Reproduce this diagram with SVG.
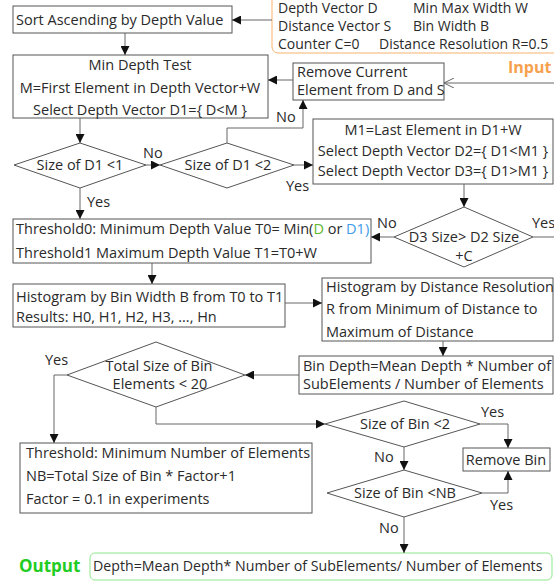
<svg xmlns="http://www.w3.org/2000/svg" width="554" height="583" viewBox="0 0 554 583">
<style>
text{font-family:"Open Sans","Noto Sans","Liberation Sans",sans-serif;font-size:14.5px;fill:#2a2a2a}
.c{text-anchor:middle}
.in{font-size:14px}
.box{fill:#fff;stroke:#555;stroke-width:1}
.ln{fill:none;stroke:#666;stroke-width:1}
.ar{marker-end:url(#ah)}
</style>
<defs>
<marker id="ah" viewBox="0 0 10 10" refX="10" refY="5" markerWidth="9" markerHeight="9" markerUnits="userSpaceOnUse" orient="auto"><path d="M0,0 L10,5 L0,10 z" fill="#111"/></marker>
<marker id="oh" viewBox="0 0 10 10" refX="10" refY="5" markerWidth="10" markerHeight="10" markerUnits="userSpaceOnUse" orient="auto"><path d="M0,0 L10,5 L0,10" fill="none" stroke="#666" stroke-width="1"/></marker>
</defs>
<rect width="554" height="583" fill="#fff"/>

<g id="input">
<rect x="272" y="-10" width="300" height="63" rx="6" fill="#fff" stroke="#f7b26e"/>
<text class="in" x="278" y="13">Depth Vector D</text>
<text class="in" x="413" y="13">Min Max Width W</text>
<text class="in" x="278" y="31">Distance Vector S</text>
<text class="in" x="413" y="31">Bin Width B</text>
<text class="in" x="278" y="49">Counter C=0</text>
<text class="in" x="379" y="49">Distance Resolution R=0.5</text>
<text x="508" y="73" style="font-weight:bold;font-size:16px;fill:#f7a14f">Input</text>
</g>

<g id="sort"><rect class="box" x="13" y="6" width="219" height="27"/><text x="16" y="25">Sort Ascending by Depth Value</text></g>

<g id="mintest"><rect class="box" x="13" y="55" width="255" height="63"/>
<text class="c" x="140" y="70">Min Depth Test</text>
<text class="c" x="140" y="93">M=First Element in Depth Vector+W</text>
<text class="c" x="140" y="115">Select Depth Vector D1={ D&lt;M }</text></g>

<g id="remove"><rect class="box" x="293" y="63" width="151" height="37"/>
<text x="297" y="77">Remove Current</text>
<text x="297" y="95">Element from D and S</text></g>

<g id="d1lt1"><polygon class="box" points="14,165 80,143 146,165 80,188"/><text class="c" x="80" y="170">Size of D1 &lt;1</text></g>
<g id="d1lt2"><polygon class="box" points="160,165 227,143 294,165 227,188"/><text class="c" x="228" y="170">Size of D1 &lt;2</text></g>

<g id="m1"><rect class="box" x="313" y="119" width="240" height="65"/>
<text class="c" x="433" y="135">M1=Last Element in D1+W</text>
<text class="c" x="433" y="156">Select Depth Vector D2={ D1&lt;M1 }</text>
<text class="c" x="433" y="176">Select Depth Vector D3={ D1&gt;M1 }</text></g>

<g id="d3"><polygon class="box" points="394,237 464,207 533,237 464,267"/>
<text class="c" x="464" y="242">D3 Size&gt; D2 Size</text>
<text class="c" x="464" y="261">+C</text></g>

<g id="threshold0"><rect class="box" x="13" y="219" width="358" height="44"/>
<text x="16" y="234">Threshold0: Minimum Depth Value T0= Min(<tspan style="fill:#5cb82c">D</tspan> or <tspan style="fill:#3d9be9">D1)</tspan></text>
<text x="16" y="258">Threshold1 Maximum Depth Value T1=T0+W</text></g>

<g id="hist"><rect class="box" x="13" y="284" width="272" height="43"/>
<text x="16" y="302">Histogram by Bin Width B from T0 to T1</text>
<text x="16" y="322">Results: H0, H1, H2, H3, ..., Hn</text></g>

<g id="histdist"><rect class="box" x="322" y="278" width="231" height="63"/>
<text x="326" y="292">Histogram by Distance Resolution</text>
<text x="326" y="314">R from Minimum of Distance to</text>
<text x="326" y="337">Maximum of Distance</text></g>

<g id="bindepth"><rect class="box" x="299" y="356" width="254" height="38"/>
<text x="303" y="371">Bin Depth=Mean Depth * Number of</text>
<text x="303" y="389">SubElements / Number of Elements</text></g>

<g id="total"><polygon class="box" points="67,375 156,342 245,375 156,407"/>
<text class="c" x="159" y="371">Total Size of Bin</text>
<text class="c" x="160" y="389">Elements &lt; 20</text></g>

<g id="thresholdnb"><rect class="box" x="20" y="443" width="292" height="70"/>
<text x="26" y="458">Threshold: Minimum Number of Elements</text>
<text x="26" y="481">NB=Total Size of Bin * Factor+1</text>
<text x="26" y="504">Factor = 0.1 in experiments</text></g>

<g id="binlt2"><polygon class="box" points="325,424 404,401 480,424 404,447"/><text class="c" x="405" y="429">Size of Bin &lt;2</text></g>
<g id="removebin"><rect class="box" x="463" y="448" width="87" height="23"/><text class="c" x="506" y="465">Remove Bin</text></g>
<g id="binltnb"><polygon class="box" points="327,493 404,470 482,493 404,517"/><text class="c" x="405" y="498">Size of Bin &lt;NB</text></g>

<g id="output">
<text x="19" y="572" style="font-weight:bold;font-size:17px;fill:#22cc22">Output</text>
<rect x="90" y="553" width="462" height="27" rx="5" fill="#fff" stroke="#8ee88e"/>
<text x="93" y="571" style="font-size:14.2px">Depth=Mean Depth* Number of SubElements/ Number of Elements</text></g>

<g id="connectors">
<path class="ln ar" d="M272,20 H232"/>
<path class="ln ar" d="M125,33 V55"/>
<path class="ln ar" d="M293,80 H268"/>
<path class="ln" d="M556,237 V83 H444" marker-end="url(#oh)"/>
<path class="ln ar" d="M80,118 V143"/>
<path class="ln ar" d="M146,165 H160"/>
<path class="ln ar" d="M227,143 V128 H303 V100"/>
<path class="ln ar" d="M294,165 H313"/>
<path class="ln ar" d="M464,184 V207"/>
<path class="ln ar" d="M394,237 H371"/>
<path class="ln" d="M533,237 H556"/>
<path class="ln ar" d="M80,188 V219"/>
<path class="ln ar" d="M152,263 V284"/>
<path class="ln ar" d="M285,303 H322"/>
<path class="ln ar" d="M443,341 V356"/>
<path class="ln ar" d="M299,375 H245"/>
<path class="ln ar" d="M67,375 H54 V443"/>
<path class="ln ar" d="M156,407 V424 H325"/>
<path class="ln ar" d="M480,424 H508 V448"/>
<path class="ln ar" d="M404,447 V470"/>
<path class="ln ar" d="M482,493 H508 V471"/>
<path class="ln ar" d="M404,517 V553"/>
<text x="143" y="158">No</text>
<text x="276" y="122">No</text>
<text x="286" y="191">Yes</text>
<text x="377" y="228">No</text>
<text x="532" y="228">Yes</text>
<text x="87" y="207">Yes</text>
<text x="45" y="365">Yes</text>
<text x="481" y="417">Yes</text>
<text x="374" y="462">No</text>
<text x="490" y="510">Yes</text>
<text x="379" y="533">No</text>
</g>
</svg>
